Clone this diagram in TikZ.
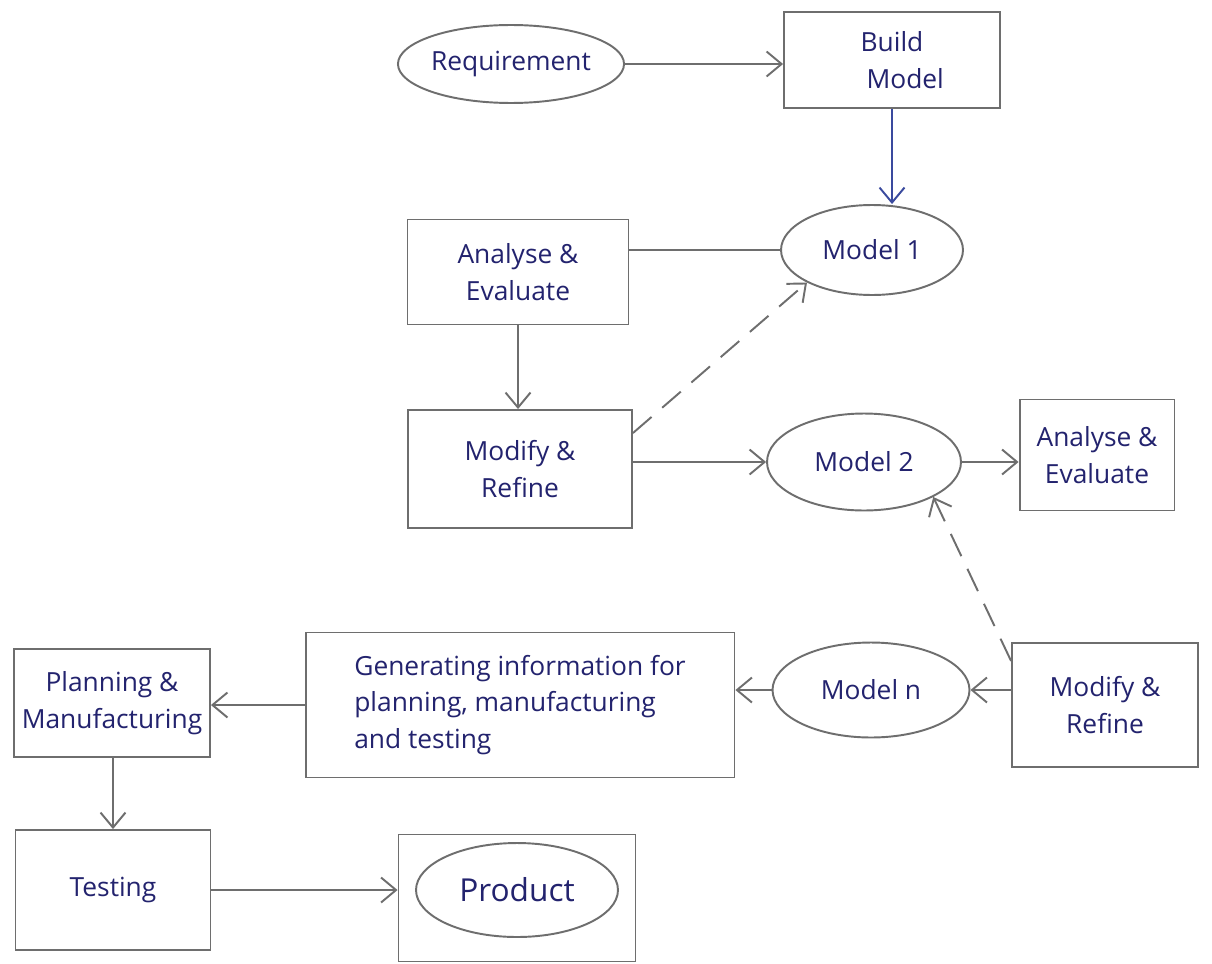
\documentclass[tikz,border=0pt]{standalone}
\usepackage{fontspec}
\setmainfont{Open Sans}
\usetikzlibrary{shapes.geometric,arrows.meta,calc}
\definecolor{ink}{HTML}{23236E}
\definecolor{pencil}{HTML}{6E6E6E}
\definecolor{blueink}{HTML}{3A4A9E}
\tikzset{
  base/.style={draw=pencil, line width=1.1pt, inner sep=0pt, text=ink,
    font=\fontsize{15}{21}\selectfont, align=center},
  stepbox/.style={base, rectangle},
  oval/.style={base, ellipse},
  arr/.style={draw=pencil, line width=1.1pt,
    -{Straight Barb[length=3mm,width=5mm,line width=1.1pt]}},
  plainline/.style={draw=pencil, line width=1.1pt},
  dashedarr/.style={arr, dashed, dash pattern=on 14pt off 8pt},
}
\begin{document}
\begin{tikzpicture}[x=0.02cm,y=-0.02cm]
  \useasboundingbox (0,0) rectangle (1212,963);
  \fill[white] (0,0) rectangle (1212,963);

  % top row
  \node[oval, minimum width=4.30cm, minimum height=1.56cm] (req) at (511,64) {Requirement};
  \node[stepbox, minimum width=4.32cm, minimum height=1.92cm] (build) at (892,60) {Build\\\quad Model};

  % first model and its evaluation loop
  \node[oval, minimum width=3.64cm, minimum height=1.80cm] (m1) at (872,250) {Model 1};
  \node[stepbox, minimum width=4.42cm, minimum height=2.10cm] (an1) at (518,272) {Analyse \&\\Evaluate};
  \node[stepbox, minimum width=4.48cm, minimum height=2.36cm] (mod1) at (520,469) {Modify \&\\Refine};

  % second model
  \node[oval, minimum width=3.88cm, minimum height=1.94cm] (m2) at (864,462) {Model 2};
  \node[stepbox, minimum width=3.10cm, minimum height=2.22cm] (an2) at (1097,455) {Analyse \&\\Evaluate};

  % final model and downstream steps
  \node[stepbox, minimum width=3.72cm, minimum height=2.48cm] (mod2) at (1105,705) {Modify \&\\Refine};
  \node[oval, minimum width=3.94cm, minimum height=1.90cm] (mn) at (871,690) {Model n};
  \node[stepbox, minimum width=8.58cm, minimum height=2.90cm, align=left] (gen) at (520,705)
    {Generating information for\\planning, manufacturing\\and testing};
  \node[stepbox, minimum width=3.92cm, minimum height=2.16cm] (plan) at (112,703) {Planning \&\\Manufacturing};
  \node[stepbox, minimum width=3.90cm, minimum height=2.40cm] (test) at (113,890) {Testing};
  \node[stepbox, minimum width=4.74cm, minimum height=2.54cm] (pbox) at (517,898) {};
  \node[oval, minimum width=4.04cm, minimum height=1.88cm] (prod) at (517,890) {\fontsize{18}{22}\selectfont Product};

  % connectors
  \draw[arr] (req.east) -- (req.east -| build.west);
  \draw[arr, draw=blueink] (build.south) -- (build.south |- m1.north);
  \draw[plainline] (an1.east |- m1.west) -- (m1.west);
  \draw[arr] (an1.south) -- (an1.south |- mod1.north);
  \draw[dashedarr] ($(mod1.north east)!0.2!(mod1.south east)$) -- (m1.south west);
  \draw[arr] (mod1.east |- m2.west) -- (m2.west);
  \draw[arr] (m2.east) -- (m2.east -| an2.west);
  \draw[dashedarr] ($(mod2.north west)!0.15!(mod2.south west)$) -- (m2.south east);
  \draw[arr] (mod2.west |- mn.east) -- (mn.east);
  \draw[arr] (mn.west) -- (mn.west -| gen.east);
  \draw[arr] (gen.west) -- (gen.west -| plan.east);
  \draw[arr] (plan.south -| test.north) -- (test.north);
  \draw[arr] (test.east) -- (test.east -| pbox.west);
\end{tikzpicture}
\end{document}
